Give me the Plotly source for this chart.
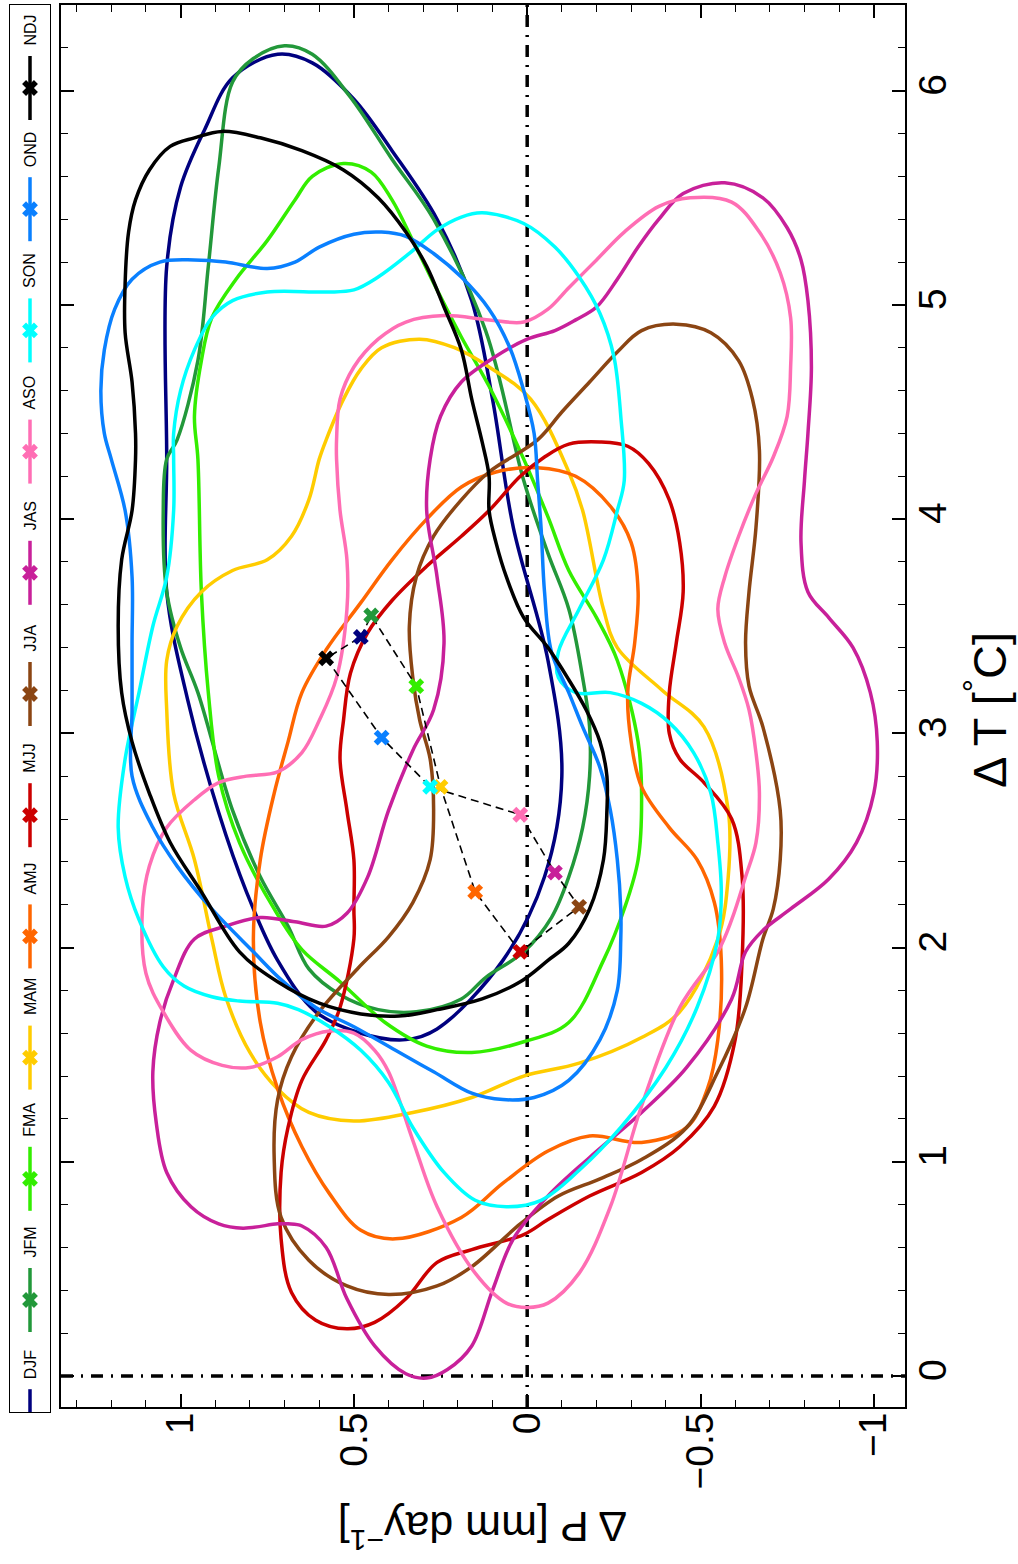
import plotly.graph_objects as go

W, H = 1018, 1564

seasons = ["DJF", "JFM", "FMA", "MAM", "AMJ", "MJJ", "JJA", "JAS", "ASO", "SON", "OND", "NDJ"]
colors = ["#00007F", "#22983A", "#33EE00", "#FFCC00", "#FF6600", "#CC0000",
          "#8B4513", "#C8209A", "#FF6EB4", "#00FFFF", "#0A80FF", "#000000"]

# seasonal mean anomalies
mean_dP = [0.48, 0.45, 0.32, 0.25, 0.15, 0.02, -0.15, -0.08, 0.02, 0.28, 0.42, 0.58]
mean_dT = [3.45, 3.55, 3.22, 2.75, 2.26, 1.98, 2.19, 2.35, 2.62, 2.75, 2.98, 3.35]

# contour outlines (dP in mm/day, dT in degC)
DJF_dP = [0.72, 0.62, 0.50, 0.39, 0.26, 0.16, 0.10, 0.04, -0.06, -0.10, -0.05, 0.07, 0.26, 0.35, 0.48, 0.61, 0.72, 0.81, 0.89, 0.98, 1.04, 1.04, 1.04, 1.00, 0.93, 0.85]
DJF_dT = [6.17, 6.13, 5.96, 5.72, 5.40, 5.02, 4.56, 3.96, 3.34, 2.80, 2.33, 1.94, 1.62, 1.57, 1.60, 1.70, 1.94, 2.26, 2.63, 3.16, 3.66, 4.28, 5.18, 5.55, 5.82, 6.06]

JFM_dP = [0.70, 0.62, 0.51, 0.39, 0.27, 0.12, 0.01, -0.06, -0.12, -0.16, -0.18, -0.18, -0.16, -0.12, -0.07, 0.01, 0.12, 0.19, 0.32, 0.43, 0.54, 0.63, 0.69, 0.77, 0.85, 0.95, 1.00, 1.04, 1.05, 1.04, 1.01, 0.95, 0.92, 0.89, 0.85, 0.79]
JFM_dT = [6.21, 6.17, 5.97, 5.68, 5.40, 4.88, 4.18, 3.84, 3.58, 3.26, 3.03, 2.80, 2.56, 2.33, 2.14, 1.98, 1.86, 1.76, 1.70, 1.71, 1.78, 1.90, 2.10, 2.33, 2.64, 3.19, 3.40, 3.66, 4.04, 4.28, 4.37, 4.74, 5.18, 5.64, 6.04, 6.15]

FMA_dP = [0.53, 0.45, 0.39, 0.33, 0.26, 0.19, 0.11, 0.01, -0.06, -0.12, -0.20, -0.26, -0.32, -0.33, -0.32, -0.28, -0.22, -0.12, 0.01, 0.16, 0.29, 0.41, 0.54, 0.65, 0.73, 0.83, 0.89, 0.92, 0.94, 0.95, 0.96, 0.94, 0.91, 0.84, 0.75, 0.67, 0.62]
FMA_dT = [5.66, 5.62, 5.49, 5.30, 5.07, 4.85, 4.62, 4.28, 4.01, 3.76, 3.54, 3.34, 2.96, 2.72, 2.41, 2.18, 1.94, 1.65, 1.56, 1.51, 1.54, 1.65, 1.84, 1.99, 2.18, 2.49, 2.80, 3.19, 3.66, 4.28, 4.48, 4.74, 4.94, 5.12, 5.30, 5.49, 5.60]

MAM_dP = [0.31, 0.21, 0.11, -0.01, -0.12, -0.16, -0.22, -0.26, -0.39, -0.51, -0.58, -0.58, -0.55, -0.44, -0.33, -0.15, 0.01, 0.16, 0.33, 0.50, 0.63, 0.72, 0.80, 0.87, 0.91, 0.96, 1.02, 1.04, 1.04, 1.01, 0.94, 0.85, 0.75, 0.68, 0.63, 0.60, 0.58, 0.53, 0.48, 0.42]
MAM_dT = [4.84, 4.80, 4.71, 4.56, 4.22, 4.04, 3.58, 3.40, 3.20, 3.03, 2.64, 2.33, 2.04, 1.70, 1.58, 1.46, 1.40, 1.30, 1.23, 1.19, 1.23, 1.34, 1.51, 1.77, 2.04, 2.41, 2.72, 3.11, 3.34, 3.50, 3.66, 3.76, 3.81, 3.92, 4.09, 4.28, 4.37, 4.56, 4.70, 4.80]

AMJ_dP = [-0.03, -0.14, -0.24, -0.30, -0.32, -0.31, -0.29, -0.30, -0.33, -0.41, -0.49, -0.54, -0.56, -0.55, -0.52, -0.46, -0.33, -0.18, -0.06, 0.07, 0.19, 0.38, 0.48, 0.57, 0.65, 0.72, 0.77, 0.79, 0.77, 0.73, 0.69, 0.65, 0.58, 0.48, 0.39, 0.29, 0.19, 0.09]
AMJ_dT = [4.24, 4.20, 4.06, 3.89, 3.66, 3.42, 3.19, 2.96, 2.75, 2.56, 2.41, 2.21, 1.94, 1.57, 1.34, 1.16, 1.09, 1.12, 1.05, 0.90, 0.74, 0.64, 0.68, 0.85, 1.07, 1.34, 1.65, 2.04, 2.41, 2.72, 2.96, 3.19, 3.39, 3.61, 3.81, 4.00, 4.15, 4.22]

MJJ_dP = [-0.21, -0.29, -0.35, -0.41, -0.44, -0.45, -0.43, -0.41, -0.41, -0.44, -0.51, -0.59, -0.62, -0.62, -0.60, -0.54, -0.44, -0.33, -0.18, -0.06, 0.01, 0.16, 0.26, 0.35, 0.44, 0.52, 0.61, 0.68, 0.71, 0.71, 0.69, 0.65, 0.58, 0.54, 0.50, 0.50, 0.50, 0.52, 0.54, 0.53, 0.51, 0.46, 0.39, 0.29, 0.19, 0.11, 0.02, -0.05, -0.12]
MJJ_dT = [4.36, 4.34, 4.26, 4.09, 3.89, 3.66, 3.42, 3.19, 3.00, 2.88, 2.77, 2.60, 2.33, 1.94, 1.57, 1.26, 1.07, 0.95, 0.84, 0.73, 0.66, 0.59, 0.53, 0.36, 0.25, 0.22, 0.26, 0.39, 0.64, 0.95, 1.16, 1.38, 1.57, 1.72, 2.04, 2.18, 2.41, 2.64, 2.88, 3.06, 3.28, 3.47, 3.62, 3.78, 3.92, 4.04, 4.20, 4.29, 4.35]

JJA_dP = [-0.43, -0.53, -0.61, -0.65, -0.67, -0.66, -0.64, -0.63, -0.64, -0.68, -0.73, -0.73, -0.71, -0.68, -0.63, -0.55, -0.46, -0.33, -0.21, -0.09, 0.02, 0.16, 0.26, 0.40, 0.52, 0.63, 0.71, 0.73, 0.72, 0.68, 0.60, 0.49, 0.40, 0.33, 0.28, 0.27, 0.28, 0.31, 0.33, 0.34, 0.32, 0.27, 0.19, 0.11, -0.03, -0.10, -0.18, -0.26, -0.33]
JJA_dT = [4.91, 4.87, 4.74, 4.56, 4.32, 3.96, 3.66, 3.42, 3.22, 3.03, 2.64, 2.41, 2.18, 2.04, 1.72, 1.42, 1.16, 1.01, 0.92, 0.84, 0.71, 0.51, 0.42, 0.38, 0.42, 0.54, 0.74, 1.02, 1.29, 1.49, 1.70, 1.90, 2.05, 2.21, 2.41, 2.64, 2.88, 3.06, 3.26, 3.50, 3.73, 3.92, 4.09, 4.22, 4.37, 4.50, 4.64, 4.78, 4.88]

JAS_dP = [-0.57, -0.68, -0.75, -0.79, -0.81, -0.82, -0.81, -0.80, -0.79, -0.81, -0.87, -0.94, -0.99, -1.01, -1.00, -0.95, -0.87, -0.76, -0.68, -0.63, -0.59, -0.46, -0.33, -0.18, -0.06, 0.04, 0.10, 0.16, 0.23, 0.29, 0.35, 0.44, 0.52, 0.58, 0.65, 0.69, 0.72, 0.82, 0.89, 0.97, 1.04, 1.07, 1.08, 1.06, 1.02, 0.96, 0.87, 0.77, 0.67, 0.58, 0.52, 0.46, 0.40, 0.33, 0.27, 0.24, 0.26, 0.29, 0.28, 0.25, 0.19, 0.09, 0.00, -0.08, -0.14, -0.20, -0.26, -0.32, -0.38, -0.45]
JAS_dT = [5.57, 5.50, 5.36, 5.21, 5.02, 4.71, 4.40, 4.18, 3.89, 3.66, 3.54, 3.40, 3.19, 2.96, 2.72, 2.49, 2.32, 2.18, 2.08, 1.98, 1.76, 1.44, 1.23, 1.02, 0.84, 0.64, 0.40, 0.14, 0.03, -0.01, 0.01, 0.14, 0.36, 0.60, 0.70, 0.71, 0.71, 0.69, 0.71, 0.79, 0.95, 1.18, 1.42, 1.65, 1.85, 2.04, 2.10, 2.14, 2.12, 2.10, 2.16, 2.33, 2.64, 2.92, 3.11, 3.42, 3.73, 4.04, 4.28, 4.48, 4.64, 4.76, 4.84, 4.88, 4.93, 4.99, 5.12, 5.27, 5.40, 5.52]

ASO_dP = [-0.47, -0.59, -0.67, -0.73, -0.76, -0.76, -0.75, -0.71, -0.66, -0.61, -0.57, -0.55, -0.57, -0.61, -0.64, -0.66, -0.67, -0.66, -0.63, -0.59, -0.55, -0.44, -0.33, -0.24, -0.15, -0.06, 0.00, 0.06, 0.15, 0.26, 0.33, 0.40, 0.44, 0.50, 0.57, 0.65, 0.72, 0.80, 0.88, 0.97, 1.05, 1.10, 1.11, 1.09, 1.04, 0.96, 0.89, 0.81, 0.72, 0.65, 0.60, 0.55, 0.52, 0.52, 0.54, 0.55, 0.55, 0.54, 0.50, 0.43, 0.35, 0.24, 0.11, 0.01, -0.06, -0.12, -0.20, -0.28, -0.38]
ASO_dT = [5.50, 5.48, 5.34, 5.15, 4.94, 4.71, 4.48, 4.29, 4.12, 3.92, 3.73, 3.58, 3.42, 3.26, 3.11, 2.91, 2.72, 2.49, 2.33, 2.13, 1.98, 1.72, 1.26, 0.79, 0.48, 0.34, 0.32, 0.34, 0.48, 0.79, 1.10, 1.42, 1.52, 1.60, 1.61, 1.57, 1.49, 1.44, 1.45, 1.52, 1.70, 1.88, 2.18, 2.38, 2.56, 2.69, 2.77, 2.80, 2.82, 2.91, 3.06, 3.26, 3.58, 3.81, 4.04, 4.28, 4.37, 4.56, 4.71, 4.84, 4.92, 4.95, 4.93, 4.92, 4.98, 5.08, 5.21, 5.34, 5.46]

SON_dP = [0.13, 0.01, -0.08, -0.15, -0.21, -0.25, -0.27, -0.28, -0.26, -0.22, -0.15, -0.09, -0.09, -0.14, -0.24, -0.33, -0.41, -0.48, -0.53, -0.55, -0.56, -0.55, -0.49, -0.40, -0.27, -0.15, -0.04, 0.06, 0.15, 0.24, 0.33, 0.40, 0.48, 0.57, 0.66, 0.72, 0.83, 0.91, 0.99, 1.05, 1.12, 1.16, 1.18, 1.16, 1.12, 1.08, 1.04, 1.02, 1.02, 1.02, 1.00, 0.96, 0.91, 0.85, 0.75, 0.58, 0.50, 0.43, 0.34, 0.26, 0.19]
SON_dT = [5.43, 5.38, 5.27, 5.13, 4.96, 4.76, 4.48, 4.18, 4.04, 3.81, 3.58, 3.38, 3.26, 3.19, 3.19, 3.14, 3.05, 2.91, 2.72, 2.49, 2.26, 2.04, 1.72, 1.44, 1.16, 0.96, 0.82, 0.79, 0.82, 0.95, 1.16, 1.37, 1.52, 1.63, 1.71, 1.74, 1.75, 1.77, 1.82, 1.91, 2.13, 2.33, 2.56, 2.88, 3.19, 3.50, 3.73, 4.04, 4.28, 4.40, 4.60, 4.79, 4.94, 5.02, 5.06, 5.06, 5.07, 5.13, 5.24, 5.35, 5.41]

OND_dP = [0.42, 0.35, 0.27, 0.19, 0.11, 0.05, 0.01, -0.02, -0.03, -0.04, -0.05, -0.07, -0.12, -0.16, -0.21, -0.24, -0.26, -0.27, -0.27, -0.26, -0.21, -0.12, -0.02, 0.07, 0.16, 0.27, 0.38, 0.50, 0.61, 0.71, 0.79, 0.91, 1.01, 1.08, 1.14, 1.14, 1.14, 1.14, 1.16, 1.20, 1.22, 1.23, 1.22, 1.19, 1.14, 1.06, 0.96, 0.87, 0.75, 0.67, 0.60, 0.50]
OND_dT = [5.34, 5.32, 5.24, 5.13, 4.98, 4.80, 4.60, 4.40, 4.18, 3.96, 3.66, 3.38, 3.19, 3.03, 2.84, 2.64, 2.41, 2.18, 2.04, 1.80, 1.57, 1.38, 1.30, 1.29, 1.32, 1.42, 1.52, 1.63, 1.72, 1.85, 1.98, 2.18, 2.38, 2.56, 2.80, 3.11, 3.42, 3.73, 4.04, 4.28, 4.40, 4.60, 4.79, 4.98, 5.12, 5.20, 5.21, 5.20, 5.17, 5.20, 5.27, 5.33]

NDJ_dP = [0.88, 0.77, 0.65, 0.53, 0.43, 0.35, 0.29, 0.24, 0.19, 0.16, 0.13, 0.11, 0.11, 0.09, 0.06, 0.01, -0.06, -0.12, -0.17, -0.21, -0.23, -0.23, -0.22, -0.18, -0.12, -0.06, 0.02, 0.13, 0.26, 0.37, 0.48, 0.60, 0.72, 0.83, 0.94, 1.03, 1.09, 1.14, 1.17, 1.18, 1.17, 1.14, 1.13, 1.13, 1.14, 1.16, 1.16, 1.15, 1.13, 1.09, 1.03, 0.96]
NDJ_dT = [5.81, 5.78, 5.72, 5.63, 5.50, 5.34, 5.18, 4.99, 4.79, 4.56, 4.36, 4.20, 4.04, 3.89, 3.73, 3.54, 3.40, 3.25, 3.11, 2.96, 2.80, 2.64, 2.41, 2.18, 2.02, 1.94, 1.84, 1.76, 1.71, 1.68, 1.69, 1.74, 1.84, 1.98, 2.26, 2.49, 2.72, 2.96, 3.19, 3.50, 3.81, 4.04, 4.28, 4.40, 4.64, 4.87, 5.10, 5.34, 5.49, 5.63, 5.74, 5.78]

contours_dP = [DJF_dP, JFM_dP, FMA_dP, MAM_dP, AMJ_dP, MJJ_dP, JJA_dP, JAS_dP, ASO_dP, SON_dP, OND_dP, NDJ_dP]
contours_dT = [DJF_dT, JFM_dT, FMA_dT, MAM_dT, AMJ_dT, MJJ_dT, JJA_dT, JAS_dT, ASO_dT, SON_dT, OND_dT, NDJ_dT]

FONT = "Liberation Sans, Arial, Helvetica, sans-serif"

# plot box in pixels
PL, PR, PT, PB = 61, 905, 5, 1407
# legend box in pixels
LL, LR, LT, LB = 10, 50, 5, 1412

fig = go.Figure()

# zero reference lines
dashdot = "12px,8px,2px,8px"
fig.add_shape(type="line", xref="x", yref="y domain", x0=0, x1=0, y0=0, y1=1,
              line=dict(color="black", width=3.5, dash=dashdot), layer="below")
fig.add_shape(type="line", xref="x domain", yref="y", x0=0, x1=1, y0=0, y1=0,
              line=dict(color="black", width=3.5, dash=dashdot), layer="below")

for name, c, xs, ys in zip(seasons, colors, contours_dP, contours_dT):
    fig.add_trace(go.Scatter(
        x=xs + xs[:1], y=ys + ys[:1], mode="lines",
        line=dict(color=c, width=3.5, shape="spline", smoothing=1.0),
        showlegend=False, hoverinfo="skip", xaxis="x", yaxis="y"))

# dashed path linking the seasonal means
fig.add_trace(go.Scatter(
    x=mean_dP + mean_dP[:1], y=mean_dT + mean_dT[:1], mode="lines",
    line=dict(color="black", width=1.6, dash="8px,5px"),
    showlegend=False, hoverinfo="skip", xaxis="x", yaxis="y"))

fig.add_trace(go.Scatter(
    x=mean_dP, y=mean_dT, mode="markers",
    marker=dict(symbol="x", size=14, color=colors, line=dict(width=0)),
    showlegend=False, hoverinfo="skip", xaxis="x", yaxis="y"))

# ---- hand-built rotated legend ----
step = 121.2
first_row = 88
annotations = []
for i, (name, c) in enumerate(zip(seasons, colors)):
    m = first_row + (11 - i) * step
    fig.add_trace(go.Scatter(
        x=[0.5, 0.5], y=[m - 32, m + 32], mode="lines",
        line=dict(color=c, width=3.5), showlegend=False, hoverinfo="skip",
        xaxis="x2", yaxis="y2"))
    fig.add_trace(go.Scatter(
        x=[0.5], y=[m], mode="markers",
        marker=dict(symbol="x", size=14, color=c, line=dict(width=0)),
        showlegend=False, hoverinfo="skip", xaxis="x2", yaxis="y2"))
    annotations.append(dict(
        x=0.5, y=m - 40, xref="x2", yref="y2", text=name, showarrow=False,
        textangle=-90, xanchor="center", yanchor="bottom",
        font=dict(family=FONT, size=16, color="black")))

# axis titles (rotated like the source figure)
annotations.append(dict(
    x=(PL + PR) / 2 / W, y=1 - 1530 / H, xref="paper", yref="paper",
    text="Δ P [mm day<sup>−1</sup>]", showarrow=False, textangle=180,
    xanchor="center", yanchor="middle", font=dict(family=FONT, size=43, color="black")))
annotations.append(dict(
    x=986 / W, y=1 - 710 / H, xref="paper", yref="paper",
    text="Δ T [<sup>°</sup>C]", showarrow=False, textangle=-90,
    xanchor="center", yanchor="middle", font=dict(family=FONT, size=47, color="black")))

tickfont = dict(family=FONT, size=39, color="black")
fig.update_layout(
    width=W, height=H,
    margin=dict(l=0, r=0, t=0, b=0, pad=0),
    paper_bgcolor="white", plot_bgcolor="white",
    showlegend=False,
    xaxis=dict(
        domain=[PL / W, PR / W], anchor="y",
        range=[1.345, -1.09], tick0=0, dtick=0.5,
        ticks="inside", ticklen=13, tickwidth=1.5, tickcolor="black",
        minor=dict(dtick=0.1, ticks="inside", ticklen=7, tickwidth=1, tickcolor="black"),
        showline=True, linecolor="black", linewidth=2, mirror="ticks",
        showgrid=False, zeroline=False, tickangle=-90, tickfont=tickfont,
        ticklabelstandoff=-12),
    yaxis=dict(
        domain=[1 - PB / H, 1 - PT / H], anchor="x", side="right",
        range=[-0.145, 6.40], tick0=0, dtick=1,
        ticks="inside", ticklen=13, tickwidth=1.5, tickcolor="black",
        minor=dict(dtick=0.2, ticks="inside", ticklen=7, tickwidth=1, tickcolor="black"),
        showline=True, linecolor="black", linewidth=2, mirror="ticks",
        showgrid=False, zeroline=False, tickangle=-90, tickfont=tickfont,
        ticklabelstandoff=-8),
    xaxis2=dict(
        domain=[LL / W, LR / W], anchor="y2", range=[0, 1],
        showline=True, linecolor="black", linewidth=1.2, mirror=True,
        showticklabels=False, ticks="", showgrid=False, zeroline=False, fixedrange=True),
    yaxis2=dict(
        domain=[1 - LB / H, 1 - LT / H], anchor="x2", range=[LB, LT],
        showline=True, linecolor="black", linewidth=1.2, mirror=True,
        showticklabels=False, ticks="", showgrid=False, zeroline=False, fixedrange=True),
    annotations=annotations,
)

fig.write_html("out.html")
